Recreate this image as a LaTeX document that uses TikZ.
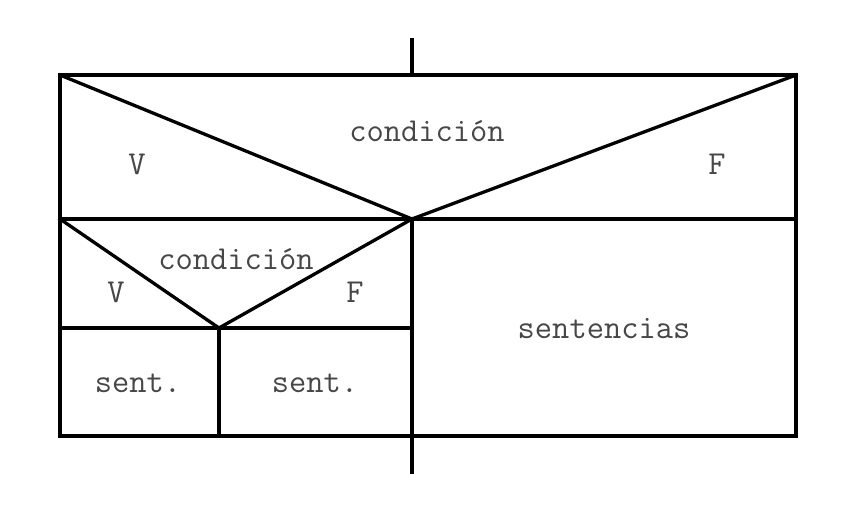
\documentclass[tikz,border=0pt]{standalone}
\begin{document}
\begin{tikzpicture}[x=1pt,y=-1pt,
  ln/.style={line width=3.3pt,line cap=rect,line join=miter},
  lbl/.style={font=\fontsize{33.5}{36}\selectfont\ttfamily,text=black!72,inner sep=0pt}]
\useasboundingbox (0,0) rectangle (862,520);
% coordinates
\coordinate (topin) at (412,40);
\coordinate (botout) at (412,472);
\coordinate (tl) at (60,75);
\coordinate (tr) at (796,75);
\coordinate (br) at (796,436);
\coordinate (bl) at (60,436);
\coordinate (ml) at (60,219);
\coordinate (mr) at (796,219);
\coordinate (mid) at (412,219);
\coordinate (midb) at (412,436);
\coordinate (ml2) at (60,328);
\coordinate (mid2) at (412,328);
\coordinate (apex) at (219,328);
\coordinate (apexb) at (219,436);
% lines
\draw[ln] (topin) -- (412,75);
\draw[ln] (midb) -- (botout);
\draw[ln] (tl) rectangle (br);
\draw[ln] (ml) -- (mr);
\draw[ln] (tl) -- (mid) -- (tr);
\draw[ln] (mid) -- (midb);
\draw[ln] (ml2) -- (mid2);
\draw[ln] (ml) -- (apex) -- (mid);
\draw[ln] (apex) -- (apexb);
% labels
\node[lbl] (c1) at (427,131) {condición};
\node[lbl] (v1) at (137,164) {V};
\node[lbl] (f1) at (717,164) {F};
\node[lbl] (c2) at (236,259) {condición};
\node[lbl] (v2) at (116,292) {V};
\node[lbl] (f2) at (355,292) {F};
\node[lbl] (s0) at (604,329) {sentencias};
\node[lbl] (s1) at (138,383) {sent.};
\node[lbl] (s2) at (315,383) {sent.};
\end{tikzpicture}
\end{document}
